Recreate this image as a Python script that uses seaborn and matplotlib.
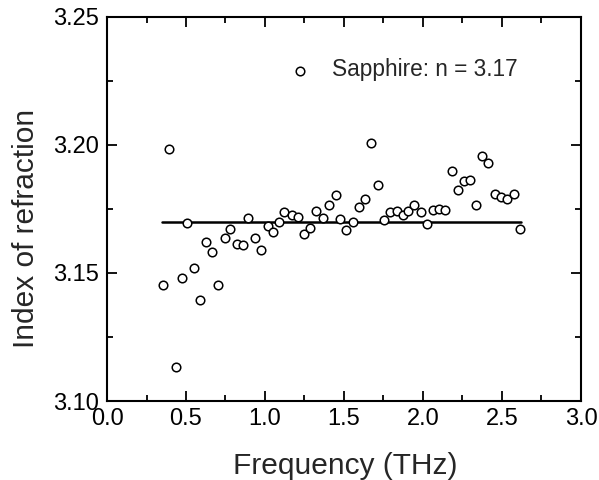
import matplotlib
matplotlib.use("Agg")
import matplotlib.pyplot as plt
import seaborn as sns
import pandas as pd
from matplotlib.ticker import MultipleLocator

freq = [0.357, 0.393, 0.439, 0.473, 0.509, 0.552, 0.589, 0.627, 0.666, 0.705,
        0.744, 0.780, 0.821, 0.862, 0.895, 0.937, 0.975, 1.017, 1.048, 1.089,
        1.123, 1.169, 1.207, 1.247, 1.285, 1.323, 1.365, 1.405, 1.447, 1.475,
        1.515, 1.558, 1.594, 1.635, 1.673, 1.715, 1.756, 1.792, 1.833, 1.872,
        1.906, 1.945, 1.986, 2.024, 2.063, 2.101, 2.140, 2.186, 2.223, 2.259,
        2.295, 2.333, 2.373, 2.411, 2.454, 2.493, 2.531, 2.573, 2.614]
index_n = [3.1454, 3.1983, 3.1134, 3.1480, 3.1696, 3.1520, 3.1396, 3.1620, 3.1582, 3.1452,
           3.1638, 3.1672, 3.1615, 3.1611, 3.1715, 3.1637, 3.1591, 3.1683, 3.1661, 3.1698,
           3.1740, 3.1727, 3.1719, 3.1654, 3.1675, 3.1744, 3.1715, 3.1765, 3.1804, 3.1711,
           3.1667, 3.1698, 3.1758, 3.1790, 3.2009, 3.1843, 3.1706, 3.1739, 3.1742, 3.1728,
           3.1742, 3.1764, 3.1739, 3.1693, 3.1748, 3.1750, 3.1748, 3.1897, 3.1826, 3.1859,
           3.1863, 3.1764, 3.1957, 3.1931, 3.1807, 3.1798, 3.1791, 3.1807, 3.1670]
fit_x = [0.35, 2.62]
fit_n = [3.17, 3.17]
legend_label = "Sapphire: n = 3.17"

sns.set_theme(style="ticks")
plt.rcParams['font.family'] = ['Liberation Sans', 'DejaVu Sans']

fig = plt.figure(figsize=(5.99, 4.80), dpi=100)
ax = fig.add_axes([107/599, 1-401/480, (581-107)/599, (401-17)/480])

df = pd.DataFrame({"freq": freq, "n": index_n})
fit = pd.DataFrame({"freq": fit_x, "n": fit_n})

sns.lineplot(data=fit, x="freq", y="n", ax=ax, color="black", lw=1.8, legend=False)
sns.scatterplot(data=df, x="freq", y="n", ax=ax, marker="o", s=38,
                facecolor="white", edgecolor="black", linewidth=1.1,
                label=legend_label, zorder=3)

ax.set_xlim(0.0, 3.0)
ax.set_ylim(3.10, 3.25)
ax.xaxis.set_major_locator(MultipleLocator(0.5))
ax.xaxis.set_minor_locator(MultipleLocator(0.25))
ax.yaxis.set_major_locator(MultipleLocator(0.05))
ax.yaxis.set_minor_locator(MultipleLocator(0.025))
ax.set_xticklabels([f"{v:.1f}" for v in ax.get_xticks()])
ax.set_yticklabels([f"{v:.2f}" for v in ax.get_yticks()])
ax.tick_params(which="both", direction="in", top=True, right=True, labelsize=17,
               width=1.3, colors="black")
ax.tick_params(axis="y", which="major", pad=6)
ax.tick_params(axis="x", which="major", pad=5)
ax.tick_params(which="major", length=7)
ax.tick_params(which="minor", length=4)
for s in ax.spines.values():
    s.set_linewidth(1.5)
    s.set_color("black")

ax.set_xlabel("Frequency (THz)", fontsize=21.5)
ax.set_ylabel("Index of refraction", fontsize=21.5)
ax.xaxis.set_label_coords(0.503, -0.133)
ax.yaxis.set_label_coords(-0.141, 0.45)

leg = ax.legend(loc="center left", bbox_to_anchor=(0.3405, 0.862), frameon=False,
                fontsize=16.3, handletextpad=0.4, handlelength=2.0, borderpad=0.4,
                borderaxespad=0.0)

fig.savefig("out.png", dpi=100)
